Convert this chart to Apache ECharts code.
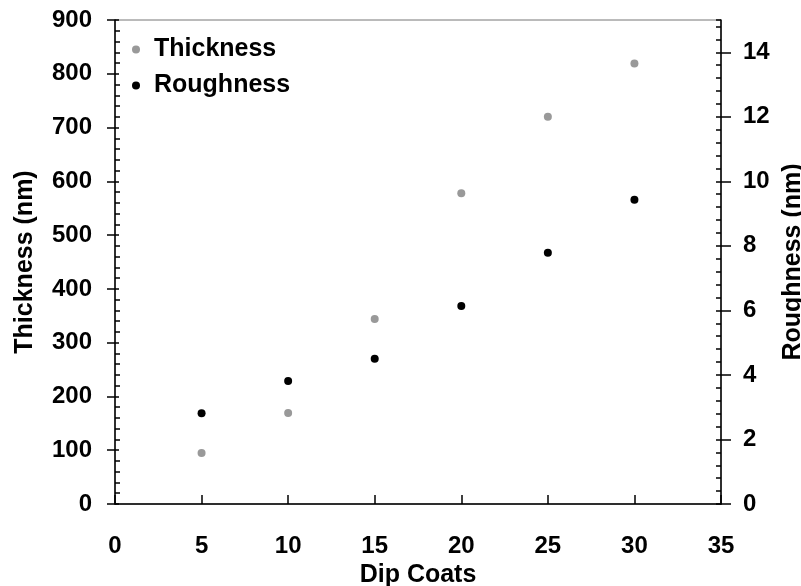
<!DOCTYPE html>
<html>
<head>
<meta charset="utf-8">
<title>Thickness and Roughness vs Dip Coats</title>
<script src="https://cdn.jsdelivr.net/npm/echarts@6/dist/echarts.min.js"></script>
<style>
  html, body { margin: 0; padding: 0; background: #fff; }
  #chart { width: 801px; height: 586px; }
</style>
</head>
<body>
<div id="chart"></div>
<script>
// data
var dipCoats = [5, 10, 15, 20, 25, 30]
var thickness = [95, 169, 344, 578, 720, 819]
var roughness = [2.81, 3.81, 4.50, 6.14, 7.79, 9.43]

var FONT = '"Liberation Sans", Arial, sans-serif'
var labelStyle = { color: '#000', fontWeight: 'bold', fontSize: 24, fontFamily: FONT }
var nameStyle = { color: '#000', fontWeight: 'bold', fontSize: 25, fontFamily: FONT }

function pairs(xs, ys) {
  return xs.map(function (x, i) { return [x, ys[i]] })
}

var chart = echarts.init(document.getElementById('chart'), null, { renderer: 'canvas' })

chart.setOption({
  backgroundColor: '#fff',
  animation: false,
  grid: {
    left: 115,
    right: 80,
    top: 20,
    bottom: 82,
    containLabel: false,
    outerBoundsMode: 'none',
    show: true,
    borderColor: '#777',
    borderWidth: 1
  },
  legend: {
    orient: 'vertical',
    left: 127,
    top: 32,
    itemWidth: 22,
    itemHeight: 8,
    itemGap: 11,
    textStyle: Object.assign({ padding: [0, 0, 0, 2] }, nameStyle),
    data: ['Thickness', 'Roughness']
  },
  xAxis: {
    type: 'value',
    min: 0,
    max: 35,
    interval: 5,
    name: 'Dip Coats',
    nameLocation: 'middle',
    nameGap: 59,
    nameTextStyle: nameStyle,
    axisLine: { onZero: false, lineStyle: { color: '#000', width: 1.5 } },
    axisTick: { inside: true, length: 9, lineStyle: { color: '#000', width: 1.5 } },
    axisLabel: Object.assign({ margin: 30 }, labelStyle),
    splitLine: { show: false }
  },
  yAxis: [
    {
      // left, labelled, ticks outward
      type: 'value',
      position: 'left',
      min: 0,
      max: 900,
      interval: 100,
      name: 'Thickness (nm)',
      nameLocation: 'middle',
      nameRotate: 90,
      nameGap: 77,
      nameTextStyle: nameStyle,
      axisLine: { show: true, onZero: false, lineStyle: { color: '#000', width: 1.5 } },
      axisTick: { show: true, length: 8, lineStyle: { color: '#000', width: 1.5 } },
      axisLabel: Object.assign({ margin: 23 }, labelStyle),
      splitLine: { show: false }
    },
    {
      // right, labelled, ticks outward
      type: 'value',
      position: 'right',
      min: 0,
      max: 15,
      interval: 2,
      name: 'Roughness (nm)',
      nameLocation: 'middle',
      nameRotate: 90,
      nameGap: 52,
      nameTextStyle: nameStyle,
      axisLine: { show: true, onZero: false, lineStyle: { color: '#000', width: 1.5 } },
      axisTick: { show: true, length: 10, lineStyle: { color: '#000', width: 1.5 } },
      axisLabel: Object.assign({ margin: 22, showMaxLabel: false }, labelStyle),
      splitLine: { show: false }
    },
    {
      // left helper: inward major + minor ticks
      type: 'value',
      position: 'left',
      min: 0,
      max: 900,
      interval: 100,
      axisLine: { show: false },
      axisTick: { show: true, inside: true, length: 4, lineStyle: { color: '#000', width: 1.5 } },
      minorTick: { show: true, splitNumber: 5, length: 5, lineStyle: { color: '#000', width: 1.5 } },
      axisLabel: { show: false },
      splitLine: { show: false }
    },
    {
      // right helper: inward major + minor ticks
      type: 'value',
      position: 'right',
      min: 0,
      max: 15,
      interval: 2,
      axisLine: { show: false },
      axisTick: { show: true, inside: true, length: 5, lineStyle: { color: '#000', width: 1.5 } },
      minorTick: { show: true, splitNumber: 5, length: 5, lineStyle: { color: '#000', width: 1.5 } },
      axisLabel: { show: false },
      splitLine: { show: false }
    }
  ],
  series: [
    {
      name: 'Thickness',
      type: 'scatter',
      yAxisIndex: 0,
      symbol: 'circle',
      symbolSize: 8,
      itemStyle: { color: '#999999', opacity: 1 },
      data: pairs(dipCoats, thickness)
    },
    {
      name: 'Roughness',
      type: 'scatter',
      yAxisIndex: 1,
      symbol: 'circle',
      symbolSize: 8,
      itemStyle: { color: '#000000', opacity: 1 },
      data: pairs(dipCoats, roughness)
    }
  ]
})
</script>
</body>
</html>
